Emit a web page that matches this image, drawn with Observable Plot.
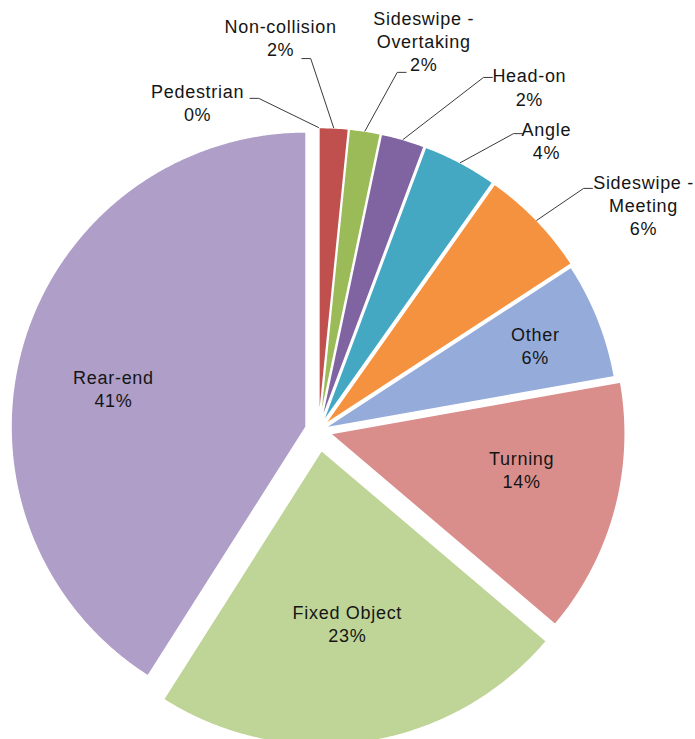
<!DOCTYPE html>
<html>
<head>
<meta charset="utf-8">
<script src="https://cdn.jsdelivr.net/npm/d3@7"></script>
<script src="https://cdn.jsdelivr.net/npm/@observablehq/plot@0.6"></script>
<style>
  html, body { margin: 0; padding: 0; background: #fff; overflow: hidden; }
  #chart svg { display: block; }
</style>
</head>
<body>
<div id="chart"></div>
<script>
// ---- data ----
const categories = ["Pedestrian", "Non-collision", "Sideswipe - Overtaking", "Head-on", "Angle",
  "Sideswipe - Meeting", "Other", "Turning", "Fixed Object", "Rear-end"];
const labelNames = ["Pedestrian", "Non-collision", "Sideswipe -\nOvertaking", "Head-on", "Angle",
  "Sideswipe -\nMeeting", "Other", "Turning", "Fixed Object", "Rear-end"];
const shares = [0, 1.6, 1.7, 2.4, 4.1, 6.0, 6.4, 14.0, 22.8, 41.0];

// ---- styling / layout ----
const colors = ["#4F81BD", "#C0504D", "#9BBB59", "#8064A2", "#44A8C3",
  "#F5923F", "#95ACDA", "#D98E8C", "#BFD598", "#AF9EC8"];
const explode = [0.027, 0.027, 0.027, 0.027, 0.027, 0.027, 0.02, 0.041, 0.068, 0.044];
const outside = [true, true, true, true, true, true, false, false, false, false];
const labelAngle = [339.8, 354.5, 15.1, 31.5, 38.1, 55.2, 68.5, 100.5, 171.5, 281.4];
const labelRadius = [1.187, 1.340, 1.369, 1.368, 1.252, 1.342, 0.770, 0.660, 0.592, 0.666];
const elbowAngle = [349.8, 358.8, 12.4, 25.05, 33.3, 47.6];
const elbowRadius = [1.144, 1.261, 1.243, 1.321, 1.204, 1.217];
const tailSide = [-1, -1, 1, 1, 1, 1];

const W = 695, H = 739;
const deg = Math.PI / 180;
const pt = (cx, cy, r, a) => [cx + r * Math.sin(a), cy - r * Math.cos(a)];

const total = d3.sum(shares);
let acc = 0;
const slices = shares.map((v, i) => {
  const a0 = acc / total * 2 * Math.PI; acc += v;
  const a1 = acc / total * 2 * Math.PI;
  const mid = (a0 + a1) / 2;
  const [ox, oy] = pt(0, 0, explode[i], mid);
  return {i, cat: categories[i], a0, a1, mid, ox, oy};
});

const slicePts = [];
for (const s of slices) {
  if (s.a1 - s.a0 <= 0) continue;
  slicePts.push({cat: s.cat, x: s.ox, y: s.oy});
  const n = Math.max(2, Math.ceil((s.a1 - s.a0) / (Math.PI / 360)));
  for (let k = 0; k <= n; k++) {
    const a = s.a0 + (s.a1 - s.a0) * k / n;
    const [x, y] = pt(s.ox, s.oy, 1, a);
    slicePts.push({cat: s.cat, x, y});
  }
  slicePts.push({cat: s.cat, x: s.ox, y: s.oy});
}

const leaderPts = [];
const labels = [];
slices.forEach((s, i) => {
  const text = labelNames[i] + "\n" + Math.round(shares[i]) + "%";
  if (outside[i]) {
    const [x, y] = pt(0, 0, labelRadius[i], labelAngle[i] * deg);
    labels.push({x, y, text});
    const [sx, sy] = pt(s.ox, s.oy, 1, s.mid);
    const [ex, ey] = pt(0, 0, elbowRadius[i], elbowAngle[i] * deg);
    leaderPts.push({cat: s.cat, x: sx, y: sy});
    leaderPts.push({cat: s.cat, x: ex, y: ey});
    leaderPts.push({cat: s.cat, x: ex + tailSide[i] * 0.03, y: ey});
  } else {
    const [x, y] = pt(s.ox, s.oy, labelRadius[i], labelAngle[i] * deg);
    labels.push({x, y, text});
  }
});

const chart = Plot.plot({
  width: W,
  height: H,
  margin: 0,
  x: {domain: [-1.078, 1.278], range: [0, W], axis: null},
  y: {domain: [-1.4576, 1.0475], range: [0, H], axis: null},
  color: {domain: categories, range: colors},
  style: "background: white; letter-spacing: 0.7px;",
  marks: [
    Plot.line(slicePts, {x: "x", y: "y", z: "cat", fill: "cat", stroke: "white", strokeWidth: 1.5, strokeLinejoin: "round"}),
    Plot.line(leaderPts, {x: "x", y: "y", z: "cat", stroke: "#3a3a3a", strokeWidth: 1}),
    Plot.text(labels, {x: "x", y: "y", text: "text", fontSize: 18, lineHeight: 1.3,
      fontFamily: "'Liberation Sans', Arial, sans-serif", fill: "#151515"})
  ]
});
document.getElementById("chart").append(chart);
</script>
</body>
</html>
